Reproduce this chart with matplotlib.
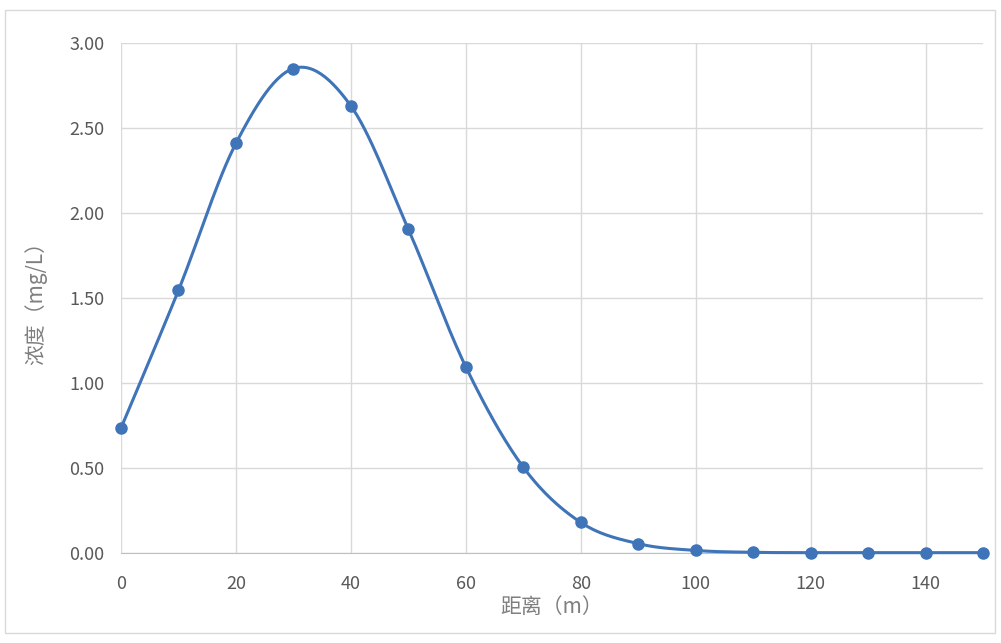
import numpy as np
import matplotlib
matplotlib.use("Agg")
import matplotlib.pyplot as plt
from matplotlib.patches import Rectangle

plt.rcParams['font.family'] = ['Noto Sans CJK SC', 'DejaVu Sans']

# distance (m) and concentration (mg/L)
dist = [0, 10, 20, 30, 40, 50, 60, 70, 80, 90, 100, 110, 120, 130, 140, 150]
conc = [0.735, 1.545, 2.41, 2.85, 2.63, 1.905, 1.095, 0.505, 0.18, 0.055, 0.015,
        0.004, 0.002, 0.002, 0.002, 0.002]

x_ticks = [0, 20, 40, 60, 80, 100, 120, 140]
y_ticks = [0.0, 0.5, 1.0, 1.5, 2.0, 2.5, 3.0]


def smooth(xs, ys, n=30):
    # catmull-rom style smoothing like Excel's smoothed line
    xs = np.asarray(xs, float)
    ys = np.asarray(ys, float)
    px = np.concatenate([[xs[0]], xs, [xs[-1]]])
    py = np.concatenate([[ys[0]], ys, [ys[-1]]])
    outx, outy = [], []
    t = np.linspace(0, 1, n)
    for i in range(1, len(px) - 2):
        p0x, p1x, p2x, p3x = px[i - 1], px[i], px[i + 1], px[i + 2]
        p0y, p1y, p2y, p3y = py[i - 1], py[i], py[i + 1], py[i + 2]
        c1x = p1x + (p2x - p0x) / 6
        c1y = p1y + (p2y - p0y) / 6
        c2x = p2x - (p3x - p1x) / 6
        c2y = p2y - (p3y - p1y) / 6
        bx = (1 - t) ** 3 * p1x + 3 * (1 - t) ** 2 * t * c1x + 3 * (1 - t) * t ** 2 * c2x + t ** 3 * p2x
        by = (1 - t) ** 3 * p1y + 3 * (1 - t) ** 2 * t * c1y + 3 * (1 - t) * t ** 2 * c2y + t ** 3 * p2y
        outx.extend(bx)
        outy.extend(by)
    return outx, outy


fig = plt.figure(figsize=(10.01, 6.43), dpi=100)
fig.patches.append(Rectangle((5 / 1001, 1 - 633 / 643), 990 / 1001, 623 / 643,
                             transform=fig.transFigure, fill=False,
                             edgecolor='#d9d9d9', linewidth=1))
ax = fig.add_axes([121 / 1001, 90 / 643, 862 / 1001, 510 / 643])

line_col = '#3f74b8'
sx, sy = smooth(dist, conc)
ax.plot(sx, sy, color=line_col, linewidth=2.2, zorder=3, clip_on=False)
ax.plot(dist, conc, 'o', color=line_col, markersize=8, zorder=4, clip_on=False)

ax.set_xlim(0, 150)
ax.set_ylim(0, 3.0)
ax.set_xticks(x_ticks)
ax.set_yticks(y_ticks)
ax.set_yticklabels(['%.2f' % v for v in y_ticks])
ax.grid(True, color='#d9d9d9', linewidth=1)
ax.set_axisbelow(True)
for s in ['top', 'right', 'left']:
    ax.spines[s].set_visible(False)
ax.spines['bottom'].set_color('#bfbfbf')
ax.tick_params(length=0, colors='#595959', labelsize=13)
ax.tick_params(axis='x', pad=16)
ax.tick_params(axis='y', pad=12)

ax.set_xlabel('距离（m）', color='#7f7f7f', fontsize=15, labelpad=2)
ax.set_ylabel('浓度（mg/L）', color='#7f7f7f', fontsize=15, labelpad=16)

fig.savefig('out.png', dpi=100)
